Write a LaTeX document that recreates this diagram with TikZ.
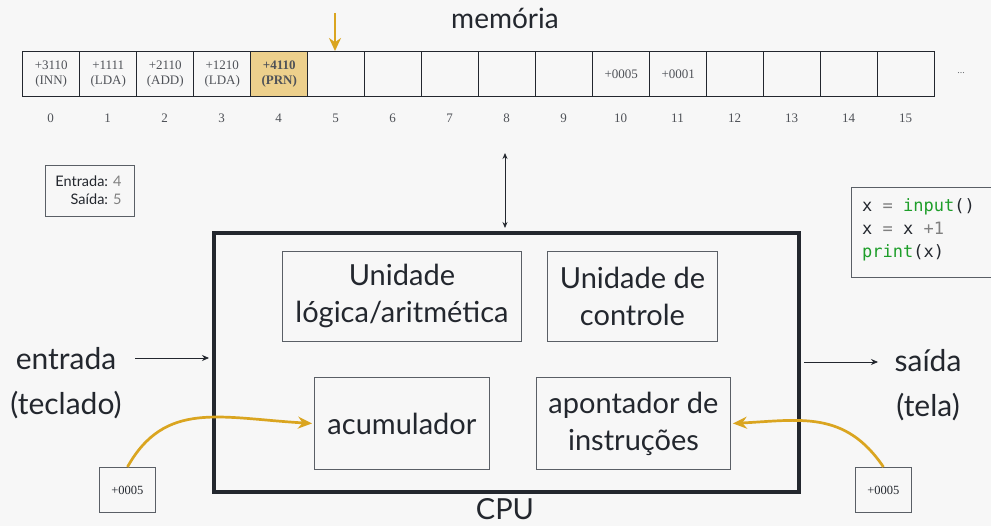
\documentclass[tikz,border=0pt]{standalone}
\usepackage{fontspec}
\setmainfont{Lato}
\newfontfamily\cellfont{Liberation Serif}
\newfontfamily\codefont{DejaVu Sans Mono}
\usetikzlibrary{arrows.meta}
\definecolor{gold}{HTML}{DAA520}
\definecolor{goldfill}{HTML}{EDD08C}
\definecolor{ink}{HTML}{23272E}
\definecolor{boxgray}{HTML}{5A5F66}
\definecolor{codegreen}{HTML}{1E9E2A}
\tikzset{
  cell/.style={draw=ink, line width=1.4pt, minimum width=57pt, minimum height=45pt, inner sep=0pt, anchor=north west, font=\cellfont\fontsize{13}{14.5}\selectfont, align=center, text=ink!80},
  idx/.style={font=\cellfont\fontsize{13}{14}\selectfont, text=ink!80},
  unit/.style={draw=boxgray, line width=0.9pt, inner sep=0pt, anchor=north west, align=center, font=\fontsize{29}{37}\selectfont, text=ink},
  small/.style={draw=boxgray, line width=0.9pt, inner sep=0pt, anchor=north west, font=\cellfont\fontsize{12.5}{14}\selectfont, text=ink},
  big/.style={font=\fontsize{30}{45}\selectfont, text=ink, align=center},
  gold arrow/.style={draw=gold, line width=2.7pt, -{Stealth[length=14pt,width=12pt]}},
  thin arrow/.style={draw=ink, line width=0.8pt},
}
\begin{document}
\begin{tikzpicture}[x=1pt,y=-1pt]
\useasboundingbox[fill=white!97!black] (0,0) rectangle (991,526);
% memory
\node[font=\fontsize{28}{30}\selectfont, text=ink] (mem) at (505,18) {memória};
\foreach \i/\t in {0/{+3110\\(INN)},1/{+1111\\(LDA)},2/{+2110\\(ADD)},3/{+1210\\(LDA)},5/{},6/{},7/{},8/{},9/{},10/{+0005},11/{+0001},12/{},13/{},14/{},15/{}}{
  \node[cell] (c\i) at ({22+\i*57},51) {\t};
}
\node[cell, fill=goldfill, font=\cellfont\bfseries\fontsize{13}{14.5}\selectfont] (c4) at (250,51) {+4110\\(PRN)};
\foreach \i in {0,...,15}{
  \node[idx] (n\i) at ({50.5+\i*57},118) {\i};
}
\node[font=\cellfont\fontsize{10}{12}\selectfont, text=ink!70] (dots) at (961,73) {...};
\coordinate (ptrtop) at (335,13);
\draw[gold arrow, -{Stealth[length=13pt,width=12pt]}] (ptrtop) -- (c5.north west -| ptrtop);
% entrada/saida box
\node[draw=boxgray, line width=1pt, anchor=north west, minimum width=89pt, minimum height=51pt, inner sep=0pt] (io) at (45,165) {};
\node[anchor=east, font=\fontsize{14.5}{18}\selectfont, text=ink, align=right] (iotxt) at (125,190.5) {Entrada: \textcolor{gray}{4}\\Saída: \textcolor{gray}{5}};
% code box
\node[draw=boxgray, line width=1pt, anchor=north west, minimum width=150pt, minimum height=90pt, inner sep=0pt] (code) at (851,187) {};
\node[anchor=north west, font=\codefont\fontsize{17}{23}\selectfont, text=ink, align=left, inner sep=0pt] (codetxt) at (862,198)
 {x \textcolor{gray}{=} \textcolor{codegreen}{input}()\\x \textcolor{gray}{=} x \textcolor{gray}{+1}\\\textcolor{codegreen}{print}(x)};
% CPU
\node[draw=ink, line width=4pt, anchor=north west, minimum width=585pt, minimum height=259pt, inner sep=0pt] (cpu) at (212,231) {};
\node[font=\fontsize{29}{31}\selectfont, text=ink, inner sep=1pt] (cpulbl) at (505,509) {CPU};
\node[unit, minimum width=239pt, minimum height=90pt] (alu) at (282,251) {Unidade\\lógica/aritmética};
\node[unit, minimum width=170pt, minimum height=90pt] (ctl) at (547,251) {Unidade de\\controle};
\node[unit, minimum width=175pt, minimum height=92pt] (acc) at (314,377) {acumulador};
\node[unit, minimum width=194pt, minimum height=92pt] (apt) at (536,377) {apontador de\\instruções};
% memory <-> cpu
\coordinate (bustop) at (505,153);
\draw[thin arrow, {Stealth[length=6pt,width=5pt]}-{Stealth[length=6pt,width=5pt]}, shorten >=3pt] (bustop) -- (bustop |- cpu.north);
% entrada / saida
\node[big] (in) at (66,383) {entrada\\(teclado)};
\node[big] (out) at (928,385) {saída\\(tela)};
\coordinate (inA) at (135,358);
\draw[thin arrow, -{Stealth[length=7pt,width=6pt]}, shorten >=3pt] (inA) -- (inA -| cpu.west);
\coordinate (outB) at (878,362);
\draw[thin arrow, -{Stealth[length=7pt,width=6pt]}, shorten <=3pt] (outB -| cpu.east) -- (outB);
% small value boxes
\node[small, minimum width=56pt, minimum height=45pt] (v1) at (99,467) {+0005};
\node[small, minimum width=56pt, minimum height=45pt] (v2) at (855,467) {+0005};
\draw[gold arrow] (v1.north) .. controls (165,400) and (220,418) .. ([xshift=-2pt]acc.west);
\draw[gold arrow] (v2.north) .. controls (845,410) and (800,420) .. ([xshift=2pt]apt.east);
\end{tikzpicture}
\end{document}
